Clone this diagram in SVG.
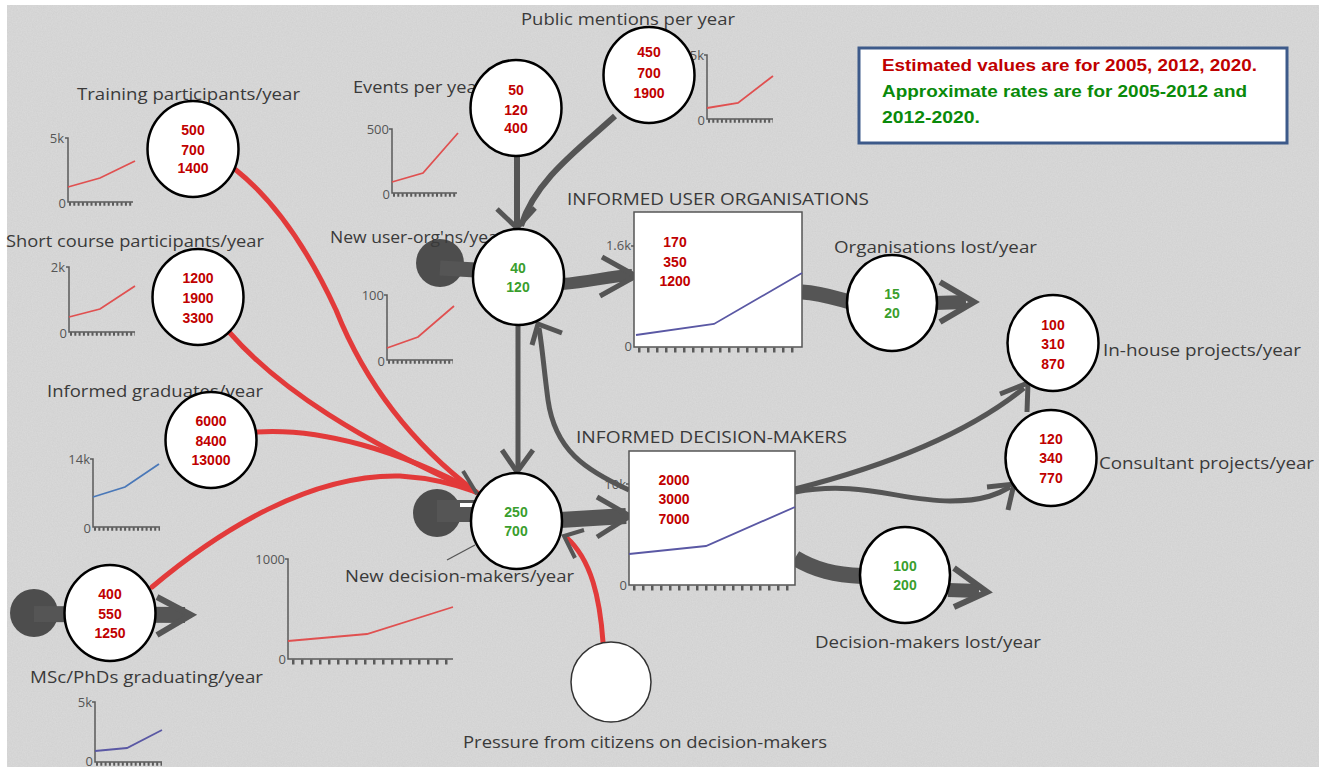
<svg xmlns="http://www.w3.org/2000/svg" width="1322" height="771" viewBox="0 0 1322 771">
  <defs>
    <filter id="grain" x="0" y="0" width="100%" height="100%">
      <feTurbulence type="fractalNoise" baseFrequency="0.8" numOctaves="2" seed="4" result="n"/>
      <feColorMatrix in="n" type="matrix" values="0 0 0 0 0.5  0 0 0 0 0.5  0 0 0 0 0.5  0 0 0 -1.2 1.1"/>
    </filter>
    <style>
      .lbl { font-family: "Open Sans", "DejaVu Sans", sans-serif; font-size: 17px; fill: #3a3a3a; }
      .ax { fill: none; stroke: #5a5a5a; stroke-width: 1.5; }
      .tk { fill: none; stroke: #5a5a5a; stroke-width: 3.5; stroke-dasharray: 2 2.3; }
      .tkb { fill: none; stroke: #5a5a5a; stroke-width: 5; stroke-dasharray: 2.5 6.5; }
      .axl { font-family: "Open Sans", "DejaVu Sans", sans-serif; font-size: 13px; fill: #555; text-anchor: end; }
      .sr { fill: none; stroke: #e05050; stroke-width: 1.8; }
      .sb { fill: none; stroke: #4a78b8; stroke-width: 1.8; }
      .sp { fill: none; stroke: #5a58a4; stroke-width: 1.8; }
      .red { fill: none; stroke: #e23a3a; stroke-width: 5; stroke-linecap: round; }
      .pipe { fill: none; stroke: #555; }
      .chev { fill: none; stroke: #555; stroke-linejoin: miter; }
      .cloud { fill: #4d4d4d; }
      .node { fill: #fff; stroke: #000; stroke-width: 2.5; }
      .num { font-family: "Liberation Sans", Arial, sans-serif; font-weight: bold; font-size: 14px; text-anchor: middle; }
      .r { fill: #c00000; }
      .g { fill: #3a9e2e; }
      .box { fill: #fff; stroke: #555; stroke-width: 1.5; }
      .leg { font-family: "Liberation Sans", Arial, sans-serif; font-weight: bold; font-size: 17px; }
    </style>
  </defs>

  <!-- backdrop -->
  <rect x="0" y="0" width="1322" height="771" fill="#fff"/>
  <rect x="7" y="5" width="1312" height="762" fill="#dadada"/>
  <rect x="7" y="5" width="1312" height="762" filter="url(#grain)" opacity="0.3"/>

  <!-- small trend charts -->
  <g id="charts">
    <g id="chart-training">
      <path class="ax" d="M65,138 H68 V202 H133"/>
      <line class="tk" x1="69" y1="204" x2="133" y2="204"/>
      <text class="axl" x="64" y="143">5k</text>
      <text class="axl" x="66" y="208">0</text>
      <polyline class="sr" points="68,187 100,178 135,161"/>
    </g>
    <g id="chart-events">
      <path class="ax" d="M389,129 H392 V193 H457"/>
      <line class="tk" x1="393" y1="195" x2="457" y2="195"/>
      <text class="axl" x="389" y="134">500</text>
      <text class="axl" x="390" y="199">0</text>
      <polyline class="sr" points="392,182 423,173 458,133"/>
    </g>
    <g id="chart-public">
      <path class="ax" d="M704,55 H707 V119 H773"/>
      <line class="tk" x1="708" y1="121" x2="773" y2="121"/>
      <text class="axl" x="704" y="60">5k</text>
      <text class="axl" x="705" y="125">0</text>
      <polyline class="sr" points="707,108 738,103 773,76"/>
    </g>
    <g id="chart-short">
      <path class="ax" d="M66,267 H69 V332 H135"/>
      <line class="tk" x1="70" y1="334" x2="135" y2="334"/>
      <text class="axl" x="65" y="272">2k</text>
      <text class="axl" x="67" y="338">0</text>
      <polyline class="sr" points="69,317 100,309 135,286"/>
    </g>
    <g id="chart-userorg">
      <path class="ax" d="M384,295 H387 V360 H453"/>
      <line class="tk" x1="388" y1="362" x2="453" y2="362"/>
      <text class="axl" x="384" y="300">100</text>
      <text class="axl" x="385" y="366">0</text>
      <polyline class="sr" points="387,348 418,337 454,306"/>
    </g>
    <g id="chart-graduates">
      <path class="ax" d="M90,459 H93 V527 H160"/>
      <line class="tk" x1="94" y1="529" x2="160" y2="529"/>
      <text class="axl" x="90" y="464">14k</text>
      <text class="axl" x="91" y="533">0</text>
      <polyline class="sb" points="93,497 125,487 159,464"/>
    </g>
    <g id="chart-decision">
      <path class="ax" d="M285,559 H288 V659 H453"/>
      <line class="tkb" x1="292" y1="662" x2="453" y2="662"/>
      <text class="axl" x="285" y="564">1000</text>
      <text class="axl" x="286" y="664">0</text>
      <polyline class="sr" points="288,641 367,634 453,607"/>
    </g>
    <g id="chart-msc">
      <path class="ax" d="M92,702 H95 V762 H162"/>
      <line class="tk" x1="96" y1="764" x2="162" y2="764"/>
      <text class="axl" x="92" y="707">5k</text>
      <text class="axl" x="93" y="766">0</text>
      <polyline class="sp" points="95,751 127,748 162,730"/>
    </g>
  </g>

  <!-- flows and influences -->
  <g id="connectors">
    <!-- influences on new decision-makers -->
    <path class="red" d="M236,170 Q292,215 336,310 Q380,420 476,492"/>
    <path class="red" d="M230,333 C280,390 360,440 476,492"/>
    <path class="red" d="M257,432 C320,428 400,450 476,492"/>
    <path class="red" d="M152,587 C220,530 310,474 400,476 C430,478 455,484 476,492"/>
    <polyline class="chev" stroke-width="4" points="463,471 477,494"/>
    <path class="red" d="M603,642 C600,600 592,560 566,537"/>
    <polyline class="chev" stroke-width="4" points="584,530 564,536 575,558"/>

    <!-- user organisation inflows -->
    <line class="pipe" stroke-width="6" x1="517" y1="157" x2="517" y2="226"/>
    <polyline class="chev" stroke-width="5" points="497,209 517,228 535,208"/>
    <path class="pipe" stroke-width="6" d="M615,116 C580,148 535,180 521,226"/>

    <!-- clouds and main stock flows -->
    <circle class="cloud" cx="440" cy="263" r="24"/>
    <line class="pipe" stroke-width="15" x1="440" y1="268" x2="476" y2="270"/>
    <path class="pipe" stroke-width="12" d="M562,284 C590,282 610,276 632,275"/>
    <polyline class="chev" stroke-width="5" points="602,257 636,276 600,296"/>

    <path class="pipe" stroke-width="15" d="M802,292 C820,293 835,298 850,302"/>
    <line class="pipe" stroke-width="14" x1="935" y1="303" x2="966" y2="302"/>
    <polyline class="chev" stroke-width="6" points="940,282 974,302 940,322"/>

    <circle class="cloud" cx="437" cy="513" r="24"/>
    <line class="pipe" stroke-width="22" x1="437" y1="511" x2="476" y2="511"/>
    <line stroke="#fff" stroke-width="4" x1="460" y1="505" x2="474" y2="505"/>
    <path class="pipe" stroke-width="16" d="M560,520 C590,518 610,517 626,516"/>
    <polyline class="chev" stroke-width="5" points="597,497 630,516 597,537"/>

    <path class="pipe" stroke-width="16" d="M795,558 C815,570 835,575 862,576"/>
    <line class="pipe" stroke-width="14" x1="948" y1="590" x2="979" y2="591"/>
    <polyline class="chev" stroke-width="6" points="954,568 987,592 954,607"/>

    <circle class="cloud" cx="34" cy="613" r="24"/>
    <line class="pipe" stroke-width="16" x1="34" y1="614" x2="185" y2="615"/>
    <polyline class="chev" stroke-width="6" points="157,597 191,615 157,635"/>

    <!-- links between stocks -->
    <line class="pipe" stroke-width="5" x1="518" y1="326" x2="518" y2="468"/>
    <polyline class="chev" stroke-width="5" points="502,450 517,472 533,450"/>
    <path class="pipe" stroke-width="5" d="M629,490 C585,470 555,450 548,400 C544,370 542,345 539,328"/>
    <polyline class="chev" stroke-width="5" points="532,345 538,324 562,333"/>

    <!-- project outputs -->
    <path class="pipe" stroke-width="5" d="M795,489 C870,470 960,440 1024,388"/>
    <polyline class="chev" stroke-width="5" points="1000,394 1028,383 1027,412"/>
    <path class="pipe" stroke-width="5" d="M795,492 C860,480 900,501 950,501 C985,501 1000,493 1010,487"/>
    <polyline class="chev" stroke-width="5" points="987,487 1014,484 1008,510"/>

    <!-- label leader -->
    <line stroke="#555" stroke-width="1.3" x1="447" y1="560" x2="475" y2="545"/>
  </g>

  <!-- stocks -->
  <g id="stock-user-orgs">
    <text class="lbl" x="567" y="205" textLength="302" lengthAdjust="spacingAndGlyphs">INFORMED USER ORGANISATIONS</text>
    <rect class="box" x="634" y="212" width="168" height="135"/>
    <line class="tkb" x1="638" y1="350" x2="796" y2="350" stroke-dasharray="3 7.4" stroke-width="5"/>
    <text class="axl" x="631" y="250">1.6k</text>
    <text class="axl" x="632" y="351">0</text>
    <line x1="631" y1="246" x2="634" y2="246" stroke="#5a5a5a" stroke-width="1.5"/>
    <polyline class="sp" points="636,335 714,324 802,273"/>
    <text class="num r" x="675" y="247">170</text>
    <text class="num r" x="675" y="267">350</text>
    <text class="num r" x="675" y="286">1200</text>
  </g>
  <g id="stock-decision-makers">
    <text class="lbl" x="576" y="443" textLength="271" lengthAdjust="spacingAndGlyphs">INFORMED DECISION-MAKERS</text>
    <rect class="box" x="629" y="451" width="166" height="134"/>
    <line class="tkb" x1="633" y1="588" x2="790" y2="588" stroke-dasharray="3 7.4" stroke-width="5"/>
    <text class="axl" x="626" y="489">10k</text>
    <text class="axl" x="627" y="590">0</text>
    <line x1="626" y1="484" x2="629" y2="484" stroke="#5a5a5a" stroke-width="1.5"/>
    <polyline class="sp" points="629,554 706,546 795,507"/>
    <text class="num r" x="674" y="485">2000</text>
    <text class="num r" x="674" y="504">3000</text>
    <text class="num r" x="674" y="524">7000</text>
  </g>

  <!-- rates and drivers -->
  <g id="public-mentions">
    <text class="lbl" x="521" y="25" textLength="214" lengthAdjust="spacingAndGlyphs">Public mentions per year</text>
    <ellipse class="node" cx="649" cy="75" rx="45.5" ry="48"/>
    <text class="num r" x="649" y="57">450</text>
    <text class="num r" x="649" y="78">700</text>
    <text class="num r" x="649" y="98">1900</text>
  </g>
  <g id="events">
    <text class="lbl" x="353" y="93" textLength="131" lengthAdjust="spacingAndGlyphs">Events per year</text>
    <ellipse class="node" cx="516" cy="108" rx="45.5" ry="48"/>
    <text class="num r" x="516" y="95">50</text>
    <text class="num r" x="516" y="115">120</text>
    <text class="num r" x="516" y="133">400</text>
  </g>
  <g id="training">
    <text class="lbl" x="77" y="100" textLength="223" lengthAdjust="spacingAndGlyphs">Training participants/year</text>
    <ellipse class="node" cx="193" cy="149" rx="45.5" ry="48"/>
    <text class="num r" x="193" y="135">500</text>
    <text class="num r" x="193" y="155">700</text>
    <text class="num r" x="193" y="173">1400</text>
  </g>
  <g id="short-course">
    <text class="lbl" x="6" y="247" textLength="258" lengthAdjust="spacingAndGlyphs">Short course participants/year</text>
    <ellipse class="node" cx="198" cy="297" rx="45.5" ry="48"/>
    <text class="num r" x="198" y="283">1200</text>
    <text class="num r" x="198" y="303">1900</text>
    <text class="num r" x="198" y="323">3300</text>
  </g>
  <g id="graduates">
    <text class="lbl" x="47" y="397" textLength="216" lengthAdjust="spacingAndGlyphs">Informed graduates/year</text>
    <ellipse class="node" cx="211" cy="440" rx="45.5" ry="48"/>
    <text class="num r" x="211" y="426">6000</text>
    <text class="num r" x="211" y="446">8400</text>
    <text class="num r" x="211" y="465">13000</text>
  </g>
  <g id="msc-phd">
    <text class="lbl" x="30" y="683" textLength="233" lengthAdjust="spacingAndGlyphs">MSc/PhDs graduating/year</text>
    <ellipse class="node" cx="110" cy="613" rx="45.5" ry="48"/>
    <text class="num r" x="110" y="599">400</text>
    <text class="num r" x="110" y="619">550</text>
    <text class="num r" x="110" y="638">1250</text>
  </g>
  <g id="new-user-orgs">
    <text class="lbl" x="330" y="243" textLength="175" lengthAdjust="spacingAndGlyphs">New user-org'ns/year</text>
    <ellipse class="node" cx="518.5" cy="277" rx="45.5" ry="48"/>
    <text class="num g" x="518" y="273">40</text>
    <text class="num g" x="518" y="292">120</text>
  </g>
  <g id="new-decision-makers">
    <text class="lbl" x="345" y="582" textLength="229" lengthAdjust="spacingAndGlyphs">New decision-makers/year</text>
    <ellipse class="node" cx="516.5" cy="521" rx="45.5" ry="48"/>
    <text class="num g" x="516" y="517">250</text>
    <text class="num g" x="516" y="536">700</text>
  </g>
  <g id="pressure">
    <text class="lbl" x="463" y="748" textLength="364" lengthAdjust="spacingAndGlyphs">Pressure from citizens on decision-makers</text>
    <ellipse cx="611" cy="682" rx="40" ry="40" fill="#fff" stroke="#333" stroke-width="1.5"/>
  </g>
  <g id="orgs-lost">
    <text class="lbl" x="834" y="253" textLength="203" lengthAdjust="spacingAndGlyphs">Organisations lost/year</text>
    <ellipse class="node" cx="892" cy="303" rx="45" ry="48"/>
    <text class="num g" x="892" y="299">15</text>
    <text class="num g" x="892" y="318">20</text>
  </g>
  <g id="decision-makers-lost">
    <text class="lbl" x="815" y="648" textLength="226" lengthAdjust="spacingAndGlyphs">Decision-makers lost/year</text>
    <ellipse class="node" cx="905" cy="575" rx="45" ry="48"/>
    <text class="num g" x="905" y="571">100</text>
    <text class="num g" x="905" y="590">200</text>
  </g>
  <g id="in-house-projects">
    <text class="lbl" x="1103" y="356" textLength="198" lengthAdjust="spacingAndGlyphs">In-house projects/year</text>
    <ellipse class="node" cx="1053" cy="343" rx="45.5" ry="48"/>
    <text class="num r" x="1053" y="330">100</text>
    <text class="num r" x="1053" y="349">310</text>
    <text class="num r" x="1053" y="369">870</text>
  </g>
  <g id="consultant-projects">
    <text class="lbl" x="1099" y="469" textLength="215" lengthAdjust="spacingAndGlyphs">Consultant projects/year</text>
    <ellipse class="node" cx="1051" cy="458" rx="45.5" ry="48"/>
    <text class="num r" x="1051" y="444">120</text>
    <text class="num r" x="1051" y="463">340</text>
    <text class="num r" x="1051" y="483">770</text>
  </g>

  <!-- key -->
  <g id="key">
    <rect x="859" y="48" width="428" height="95" fill="#fff" stroke="#3d5a8a" stroke-width="3"/>
    <text class="leg" x="882" y="71" fill="#c00000" textLength="375" lengthAdjust="spacingAndGlyphs">Estimated values are for 2005, 2012, 2020.</text>
    <text class="leg" x="882" y="97" fill="#0a8a0a" textLength="365" lengthAdjust="spacingAndGlyphs">Approximate rates are for 2005-2012 and</text>
    <text class="leg" x="882" y="123" fill="#0a8a0a" textLength="98" lengthAdjust="spacingAndGlyphs">2012-2020.</text>
  </g>
</svg>
